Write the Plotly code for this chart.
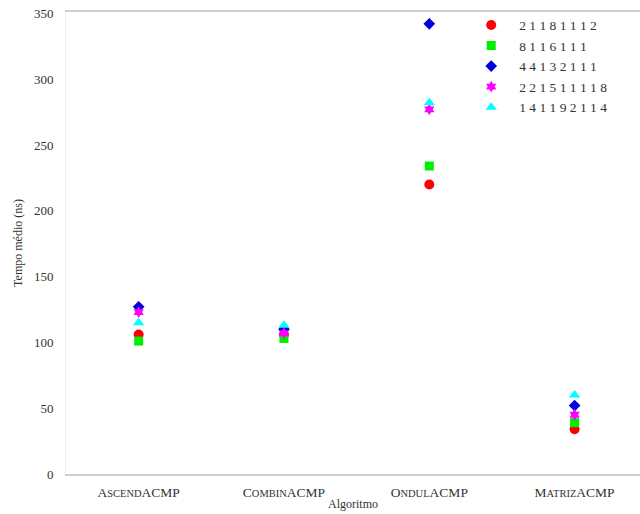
import plotly.graph_objects as go

# Algorithms compared (x categories)
algoritmos = ["AscendACMP", "CombinACMP", "OndulACMP", "MatrizACMP"]
rotulos = [
    "A<span style='font-size:10.5px'>SCEND</span>ACMP",
    "C<span style='font-size:10.5px'>OMBIN</span>ACMP",
    "O<span style='font-size:10.5px'>NDUL</span>ACMP",
    "M<span style='font-size:10.5px'>ATRIZ</span>ACMP",
]

# Input configurations (legend entries) and mean time per algorithm (ns)
configs = [
    "2 1 1 8 1 1 1 2",
    "8 1 1 6 1 1 1",
    "4 4 1 3 2 1 1 1",
    "2 2 1 5 1 1 1 1 8",
    "1 4 1 1 9 2 1 1 4",
]
tempo_21181112 = [106, 106, 220, 34]
tempo_8116111 = [101, 103, 234, 39]
tempo_44132111 = [127, 110, 342, 52]
tempo_221511118 = [123, 107, 277, 45]
tempo_141192114 = [115, 113, 282, 60]

series = [tempo_21181112, tempo_8116111, tempo_44132111, tempo_221511118, tempo_141192114]
simbolos = ["circle", "square", "diamond", "hexagram", "triangle-up"]
cores = ["#ff0000", "#00ee00", "#0000dd", "#ff00ff", "#00ffff"]
tamanhos = [10, 9, 9, 9, 10]

fig = go.Figure()
for nome, valores, simb, cor, tam in zip(configs, series, simbolos, cores, tamanhos):
    fig.add_trace(go.Scatter(
        x=algoritmos, y=valores, mode="markers", name=nome,
        marker=dict(symbol=simb, color=cor, size=tam, line=dict(width=0)),
    ))

serif = "Liberation Serif, DejaVu Serif, serif"
fig.update_layout(
    width=640, height=514,
    margin=dict(l=66, r=0, t=12, b=40),
    plot_bgcolor="white", paper_bgcolor="white",
    font=dict(family=serif, color="#333333", size=12),
    showlegend=True,
    legend=dict(
        x=0.692, y=1.005, xanchor="left", yanchor="top",
        bgcolor="rgba(255,255,255,0)", borderwidth=0,
        font=dict(family=serif, size=13.5, color="#333333"),
        tracegroupgap=0, itemwidth=46,
    ),
    xaxis=dict(
        type="category", categoryorder="array", categoryarray=algoritmos,
        tickvals=algoritmos, ticktext=rotulos,
        range=[-0.5, 3.45],
        showgrid=False, zeroline=False,
        showline=True, mirror=True, linecolor="#cfcfcf", linewidth=1.5,
        ticks="", ticklabelstandoff=5,
        tickfont=dict(family=serif, size=13.5, color="#333333"),
        title=dict(text="Algoritmo", standoff=1,
                   font=dict(family=serif, size=12, color="#333333")),
    ),
    yaxis=dict(
        range=[0, 351],
        tickvals=[0, 50, 100, 150, 200, 250, 300, 350],
        showgrid=False, zeroline=False,
        showline=True, linecolor="#f0f0f0", linewidth=1,
        ticks="", ticklabelstandoff=9,
        tickfont=dict(family=serif, size=13, color="#333333"),
        title=dict(text="Tempo médio (ns)", standoff=8,
                   font=dict(family=serif, size=12, color="#333333")),
    ),
)

fig.write_html("out.html")
